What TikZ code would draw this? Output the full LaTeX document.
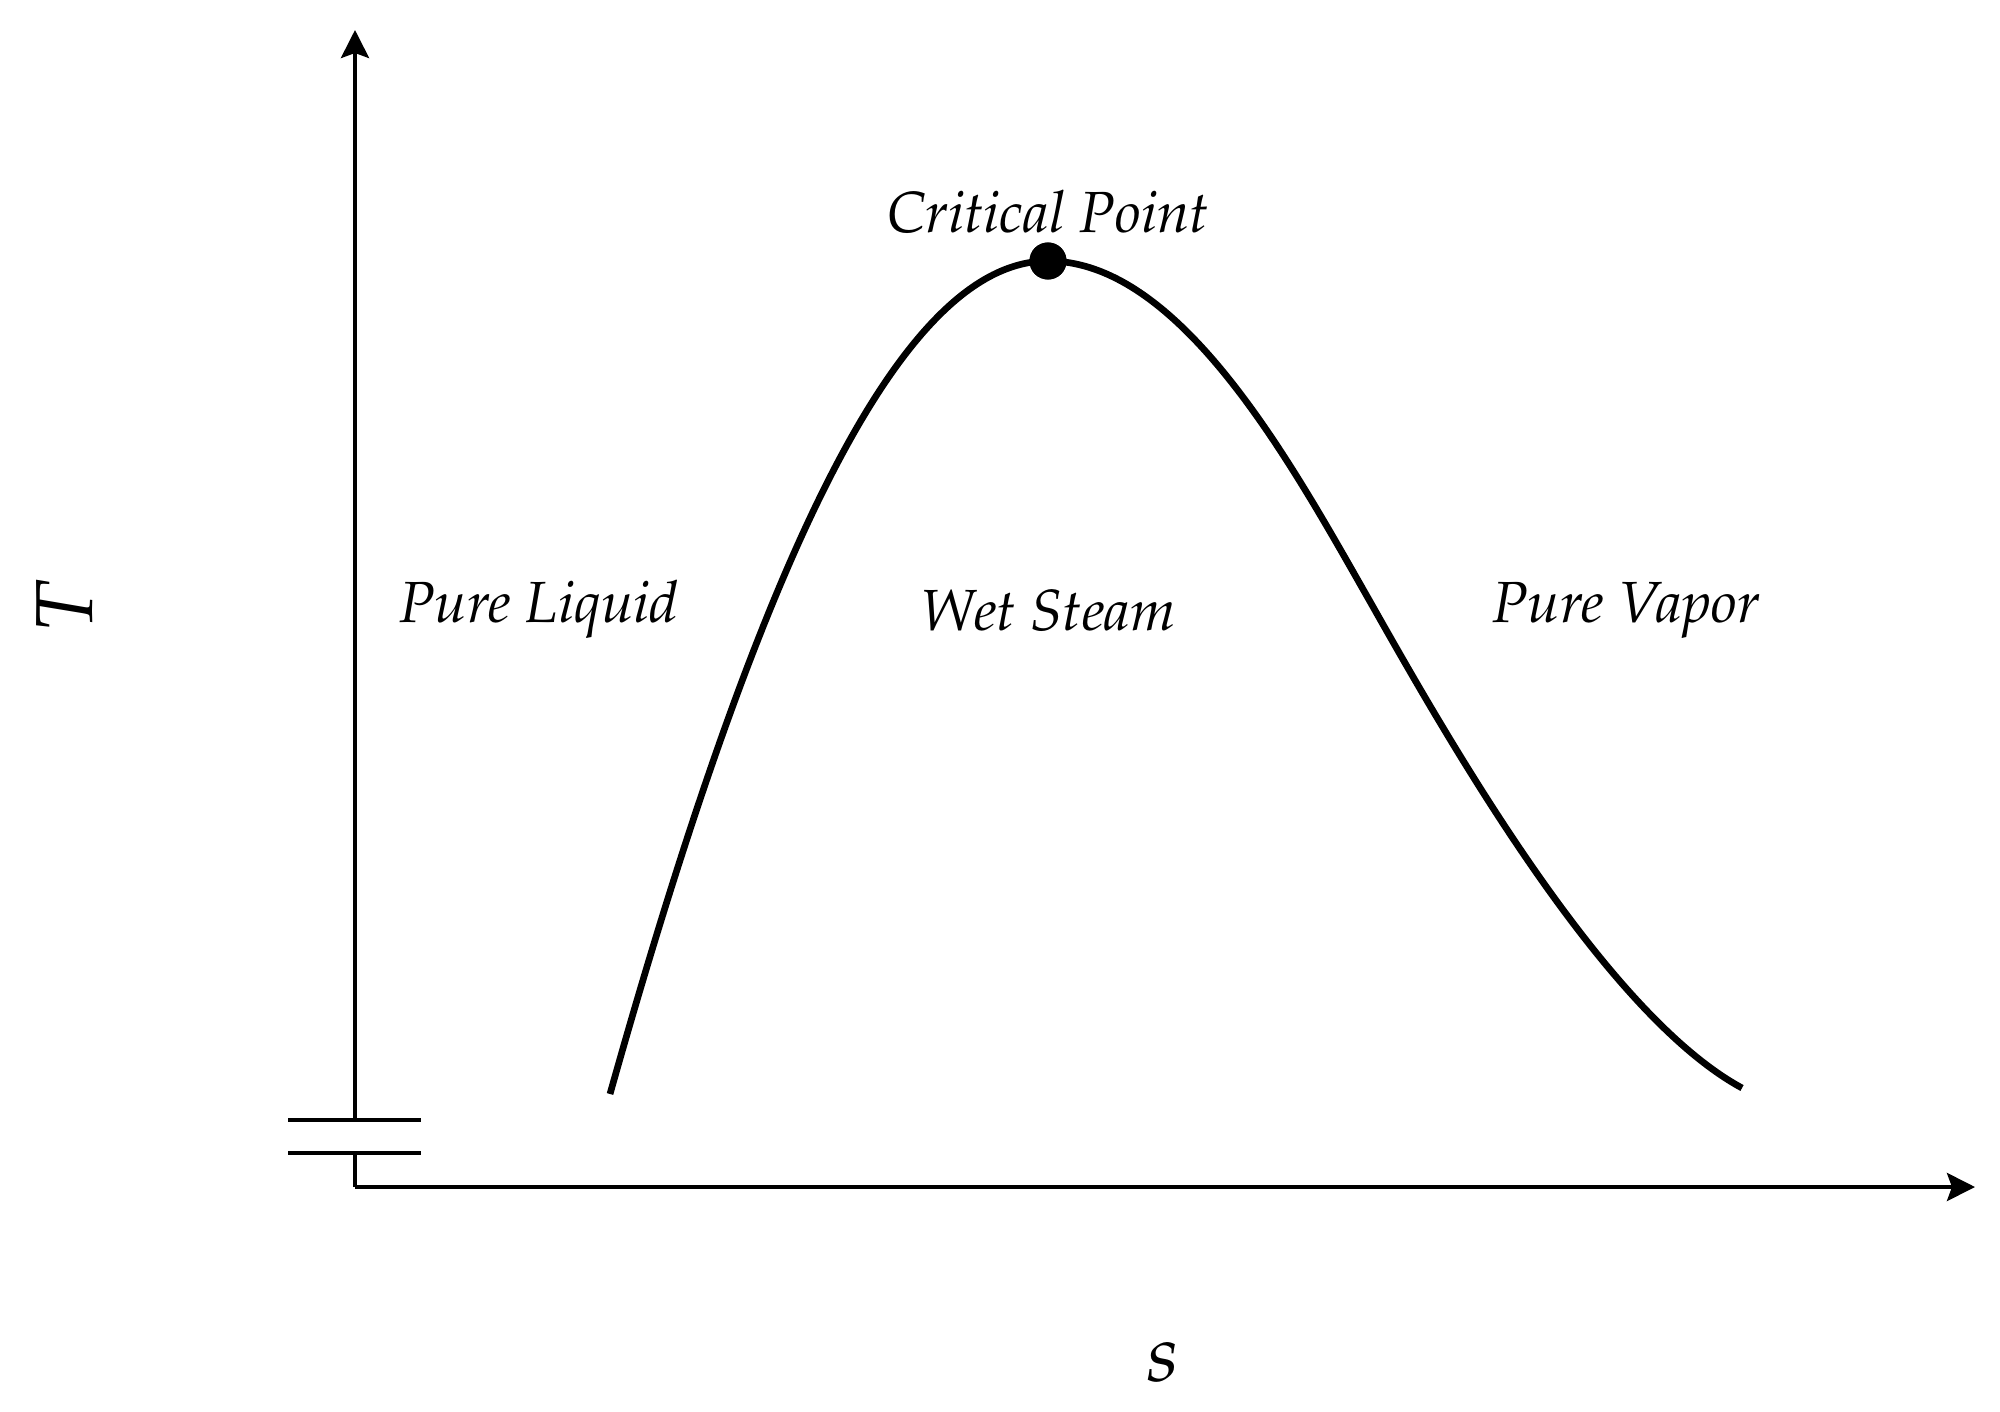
\documentclass[tikz,border=0pt]{standalone}
\usepackage[T1]{fontenc}
\usepackage{mathpazo}
\usetikzlibrary{arrows.meta}
\tikzset{
    axisline/.style={line width=1.15pt},
    axisarrow/.style={axisline, -{Stealth[length=2.8mm, width=2.8mm, inset=0.5mm]}},
    dome/.style={line width=1.9pt},
    region/.style={font=\fontsize{16.5}{20}\selectfont\itshape},
    axislabel/.style={font=\fontsize{23}{27}\selectfont}
}
\begin{document}
\begin{tikzpicture}[x=0.01cm, y=0.01cm]
    \useasboundingbox (0,0) rectangle (2000,1411);

    % axes with a break on the T axis
    \coordinate (origin) at (355,224);
    \coordinate (breaklow) at (355,258);
    \coordinate (breakhigh) at (355,291);
    \coordinate (ttop) at (355,1381);
    \coordinate (send) at (1975,224);
    \draw[axisarrow] (origin) -- (send);
    \draw[axisline] (origin) -- (breaklow);
    \draw[axisarrow] (breakhigh) -- (ttop);
    \draw[axisline] (288,258) -- (421,258);
    \draw[axisline] (288,291) -- (421,291);

    % saturation dome
    \coordinate (domestart) at (610,317);
    \coordinate (domebend) at (1368,813);
    \coordinate (domeend) at (1742,323);
    \node[circle, fill, inner sep=0pt, minimum size=3.7mm] (crit) at (1048,1150) {};
    \draw[dome] (domestart) .. controls (760,850) and (900,1150) .. (crit.center)
        .. controls (1180,1150) and (1290,950) .. (domebend)
        .. controls (1440,686) and (1600,400) .. (domeend);
    \fill (crit) circle (1.85mm);

    \node[region, anchor=base] (critlabel) at (1048,1178) {Critical Point};
    \node[region, anchor=base] (liquid) at (539,789) {Pure Liquid};
    \node[region, anchor=base] (wet) at (1048,781) {Wet Steam};
    \node[region, anchor=base] (vapor) at (1626,789) {Pure Vapor};

    \node[axislabel, anchor=base] (slabel) at (1163,30) {$s$};
    \node[axislabel, anchor=base, rotate=90] (tlabel) at (92,805) {$T$};
\end{tikzpicture}
\end{document}
